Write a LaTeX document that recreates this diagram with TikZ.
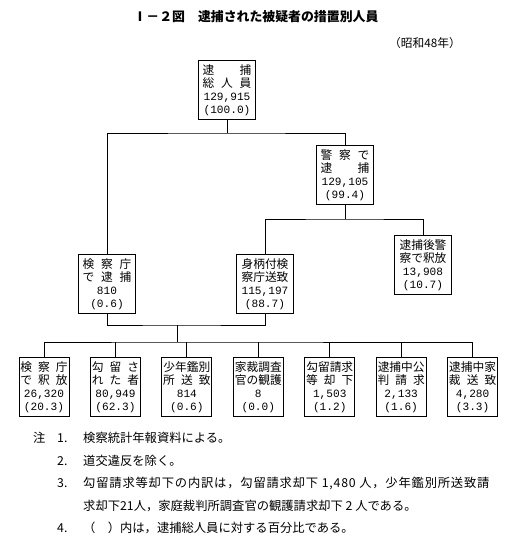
\documentclass[tikz,border=0pt]{standalone}
\usepackage{fontspec}
\setmainfont{Noto Sans CJK JP}
\setmonofont{Liberation Mono}
\usetikzlibrary{positioning}
\newcommand{\spr}[1]{\makebox[\linewidth][s]{#1}}
\newcommand{\cnt}[1]{{\fontsize{9.5}{11}\selectfont\ttfamily #1}}

\begin{document}
\begin{tikzpicture}[x=0.3mm, y=-0.3mm,
        box/.style={rectangle, draw, thick, text width=14.6mm, inner xsep=1.2mm, inner ysep=1mm, align=center, font=\fontsize{10}{11.2}\selectfont},
        leaf/.style={box, text width=14.2mm, inner xsep=0.4mm},
        line/.style={thick},
        note/.style={anchor=west, inner sep=0pt, font=\fontsize{10.5}{12}\selectfont}
    ]
        \useasboundingbox (0,0) rectangle (527,544);

        % Title
        \node[font=\fontsize{11}{13}\selectfont\bfseries] (title) at (256,17) {Ⅰ－２図\quad 逮捕された被疑者の措置別人員};
        \node[font=\fontsize{10}{12}\selectfont] (year) at (425,43) {（昭和48年）};

        % Blocks
        \node[box] (total) at (227,90) {\spr{逮\hfill 捕}\\\spr{総\hfill 人\hfill 員}\\\cnt{129,915}\\\cnt{(100.0)}};
        \node[box] (police) at (345,175) {\spr{警\hfill 察\hfill で}\\\spr{逮\hfill 捕}\\\cnt{129,105}\\\cnt{(99.4)}};
        \node[box] (prosec) at (107,284) {\spr{検\hfill 察\hfill 庁}\\\spr{で\hfill 逮\hfill 捕}\\\cnt{810}\\\cnt{(0.6)}};
        \node[box] (transfer) at (265,284) {身柄付検\\察庁送致\\\cnt{115,197}\\\cnt{(88.7)}};
        \node[box] (release) at (423,265) {逮捕後警\\察で釈放\\\cnt{13,908}\\\cnt{(10.7)}};

        \node[leaf] (b1) at (44,387) {\spr{検\hfill 察\hfill 庁}\\\spr{で\hfill 釈\hfill 放}\\\cnt{26,320}\\\cnt{(20.3)}};
        \node[leaf, right=6.15mm of b1] (b2) {\spr{勾\hfill 留\hfill さ}\\\spr{れ\hfill た\hfill 者}\\\cnt{80,949}\\\cnt{(62.3)}};
        \node[leaf, right=6.15mm of b2] (b3) {少年鑑別\\\spr{所\hfill 送\hfill 致}\\\cnt{814}\\\cnt{(0.6)}};
        \node[leaf, right=6.15mm of b3] (b4) {家裁調査\\官の観護\\\cnt{8}\\\cnt{(0.0)}};
        \node[leaf, right=6.15mm of b4] (b5) {勾留請求\\\spr{等\hfill 却\hfill 下}\\\cnt{1,503}\\\cnt{(1.2)}};
        \node[leaf, right=6.15mm of b5] (b6) {逮捕中公\\\spr{判\hfill 請\hfill 求}\\\cnt{2,133}\\\cnt{(1.6)}};
        \node[leaf, right=6.15mm of b6] (b7) {逮捕中家\\\spr{裁\hfill 送\hfill 致}\\\cnt{4,280}\\\cnt{(3.3)}};

        % Lines
        \coordinate (j1) at (227,133);
        \coordinate (j2) at (345,219);
        \coordinate (j3) at (177,325);
        \coordinate (j4) at (177,342);
        \draw[line] (total) -- (j1);
        \draw[line] (prosec.north) |- (j1) -| (police.north);
        \draw[line] (police) -- (j2);
        \draw[line] (transfer.north) |- (j2) -| (release.north);
        \draw[line] (prosec.south) |- (j3) -| (transfer.south);
        \draw[line] (j3) -- (j4);
        \draw[line] (b1.north) |- (j4) -| (b7.north);
        \foreach \i in {2,...,6}
            \draw[line] (b\i.north) -- (b\i.north |- j4);

        % Notes
        \node[note] (notehead) at (33,438) {注};
        \node[note] (k1) at (57,438) {1.};
        \node[note] (k2) at (57,461) {2.};
        \node[note] (k3) at (57,483) {3.};
        \node[note] (k4) at (57,528) {4.};
        \node[note] (t1) at (83,438) {検察統計年報資料による。};
        \node[note] (t2) at (83,461) {道交違反を除く。};
        \node[note] (t3) at (83,483) {\addfontfeature{LetterSpace=6.5}勾留請求等却下の内訳は，勾留請求却下 1,480 人，少年鑑別所送致請};
        \node[note] (t3b) at (83,506) {求却下21人，家庭裁判所調査官の観護請求却下 2 人である。};
        \node[note] (t4) at (83,528) {（　）内は，逮捕総人員に対する百分比である。};
    \end{tikzpicture}
\end{document}
